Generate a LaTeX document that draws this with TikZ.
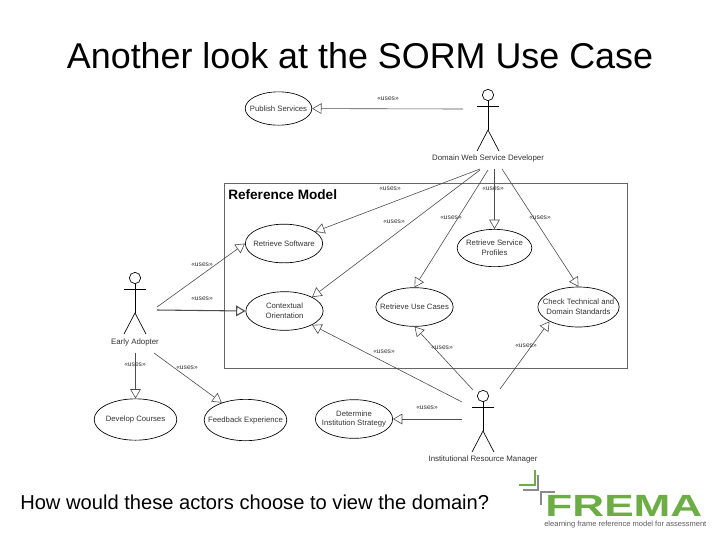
\documentclass[tikz,border=0pt]{standalone}
\usepackage{fontspec}
\setmainfont{Liberation Sans}
\usetikzlibrary{arrows.meta, shapes.geometric}
\definecolor{fremagreen}{HTML}{6CAE45}
\definecolor{fremagrey}{HTML}{8A8A8A}

\begin{document}
\begin{tikzpicture}[
    x=0.75pt, y=-0.75pt,
    usecase/.style={draw, ellipse, inner sep=-30pt, align=center, text=black!80, line width=0.5pt, font=\fontsize{5.8}{7.2}\selectfont},
    actorname/.style={text=black!80, inner sep=0pt, font=\fontsize{5.9}{7}\selectfont},
    stereotype/.style={text=black!80, inner sep=0pt, font=\fontsize{5}{6}\selectfont},
    uses/.style={-{Triangle[open, length=7pt, width=8pt]}, draw=black!70, line width=0.45pt},
    actor/.pic={
        \node[draw, circle, minimum size=8.5pt, inner sep=0pt, line width=0.5pt] (-head) at (0,0) {};
        \draw[line width=0.6pt] (-head.south) -- (0,35);
        \draw[line width=0.6pt] (-11,11) -- (11,11);
        \draw[line width=0.5pt] (-11,56) -- (0,35) -- (11,56);
    }
]
\useasboundingbox (0,0) rectangle (720,540);

\node[inner sep=0pt, font=\fontsize{26.9}{32}\selectfont] (title) at (360,56) {Another look at the SORM Use Case};
\node[inner sep=0pt, anchor=west, font=\fontsize{15.1}{18}\selectfont] (question) at (20,502) {How would these actors choose to view the domain?};

% reference model frame
\node[draw=black!60, line width=0.6pt, minimum width=302pt, minimum height=139pt, inner sep=0pt, anchor=north west] (frame) at (224,183) {};
\node[inner sep=0pt, anchor=west, font=\bfseries\fontsize{10.2}{12}\selectfont] (framename) at (228,195) {Reference Model};

% use cases
\node[usecase, minimum width=50pt, minimum height=25pt] (publish) at (278.5,108.5) {Publish Services};
\node[usecase, minimum width=58pt, minimum height=29pt] (software) at (284,243.5) {Retrieve Software};
\node[usecase, minimum width=56pt, minimum height=28pt] (profiles) at (494.5,248) {Retrieve Service\\Profiles};
\node[usecase, minimum width=58pt, minimum height=29pt] (orientation) at (284.5,311) {Contextual\\Orientation};
\node[usecase, minimum width=58pt, minimum height=29pt] (usecases) at (414.5,307) {Retrieve Use Cases};
\node[usecase, minimum width=61pt, minimum height=30pt] (standards) at (578.5,307) {Check Technical and\\Domain Standards};
\node[usecase, minimum width=62pt, minimum height=31pt] (courses) at (135.5,419.5) {Develop Courses};
\node[usecase, minimum width=62pt, minimum height=31pt] (feedback) at (245.5,420) {Feedback Experience};
\node[usecase, minimum width=58pt, minimum height=29pt] (strategy) at (354,419) {Determine\\Institution Strategy};

% actors
\pic (developer) at (488,95) {actor};
\pic (adopter) at (135,278) {actor};
\pic (manager) at (483,396) {actor};
\node[actorname] (developername) at (488,158) {Domain Web Service Developer};
\node[actorname] (adoptername) at (135,342) {Early Adopter};
\node[actorname] (managername) at (483,459) {Institutional Resource Manager};

% free ends of the connectors
\coordinate (devleft) at (463,109);
\coordinate (devsoftware) at (480,169);
\coordinate (devorientation) at (480,170);
\coordinate (devusecases) at (488,170);
\coordinate (devprofiles) at (494.5,169);
\coordinate (devstandards) at (502,169);
\coordinate (adoptsoftware) at (157,307);
\coordinate (adoptorientation) at (157,310);
\coordinate (adoptcourses) at (135.5,353);
\coordinate (adoptfeedback) at (154,353);
\coordinate (mgrorientation) at (462,402);
\coordinate (mgrusecases) at (473,390);
\coordinate (mgrstandards) at (500,389);
\coordinate (mgrstrategy) at (462,419);

\draw[uses] (devleft) -- (publish);
\draw[uses] (devsoftware) -- (software);
\draw[uses] (devorientation) -- (orientation.north east);
\draw[uses] (devusecases) -- (usecases.north);
\draw[uses] (devprofiles) -- (profiles.north);
\draw[uses] (devstandards) -- (standards.north);
\draw[uses] (adoptsoftware) -- (software.west);
\draw[uses, line width=0.8pt] (adoptorientation) -- (orientation.west);
\draw[uses] (adoptcourses) -- (courses.north);
\draw[uses] (adoptfeedback) -- (feedback);
\draw[uses] (mgrorientation) -- (orientation.south east);
\draw[uses] (mgrusecases) -- (usecases.south);
\draw[uses] (mgrstandards) -- (standards.south west);
\draw[uses] (mgrstrategy) -- (strategy.east);

% stereotype labels
\foreach \lx/\ly/\lname in {388/98.5/a, 390/189/b, 493/189/c, 394/222/d, 451/218/e, 540/218/f,
    202/265/g, 202/299/h, 135/365/i, 187/368/j, 384/352/k, 442/348/l, 526/346/m, 427/408/n}
    \node[stereotype] (uses\lname) at (\lx,\ly) {«uses»};

% logo
\draw[fremagreen, line width=1.4pt] (519,485) -- (535,485) -- (535,470);
\draw[fremagrey, line width=1.4pt] (523,490) -- (538,490) -- (538,475);
\draw[fremagrey, line width=1.4pt] (555,492) -- (541,492) -- (541,505);
\node[inner sep=0pt, anchor=west, text=fremagreen, xscale=1.44, font=\bfseries\fontsize{23}{24}\selectfont] (logo) at (545,506) {FREMA};
\node[inner sep=0pt, anchor=west, text=black!65, font=\fontsize{5.65}{6}\selectfont] (tagline) at (544,525) {elearning frame reference model for assessment};
\end{tikzpicture}
\end{document}
